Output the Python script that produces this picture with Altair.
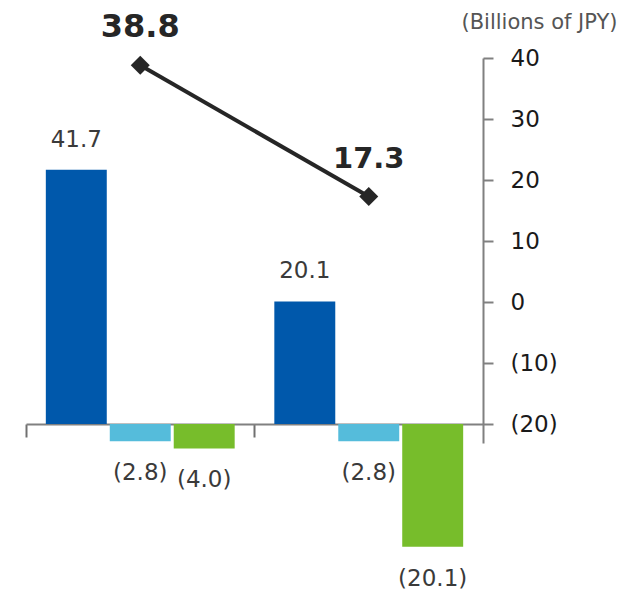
import altair as alt
import pandas as pd

groups = ["Period A", "Period B"]
series = ["Series 1", "Series 2", "Series 3"]
series1 = [41.7, 20.1]
series2 = [-2.8, -2.8]
series3 = [-4.0, -20.1]
line_values = [38.8, 17.3]
axis_ticks = [40, 30, 20, 10, 0, -10, -20]
unit_title = "(Billions of JPY)"
colors = ["#0058AB", "#55BCDB", "#77BD2B"]

rows = []
for s, vals in zip(series, [series1, series2, series3]):
    for g, v in zip(groups, vals):
        rows.append({"group": g, "series": s, "value": v})
bars_df = pd.DataFrame(rows)
line_df = pd.DataFrame({"group": groups, "value": line_values})

FONT = "Century Gothic, DejaVu Sans, sans-serif"
fmt = "datum.value < 0 ? '(' + format(-datum.value, '.1f') + ')' : format(datum.value, '.1f')"

x_enc = alt.X(
    "group:N", sort=groups,
    scale=alt.Scale(paddingInner=0, paddingOuter=0),
    axis=alt.Axis(title=None, labels=False, domainColor="#808080", domainWidth=2,
                  tickColor="#707070", tickWidth=2, tickSize=13, bandPosition=0,
                  offset=-19, grid=False),
)
xoff_enc = alt.XOffset("series:N", sort=series,
                       scale=alt.Scale(paddingInner=0.047, paddingOuter=0.31))
ybar = alt.Y("value:Q", scale=alt.Scale(domain=[-3.1, 60], nice=False), axis=None)

base_bars = alt.Chart(bars_df).transform_calculate(label=fmt)

bars = base_bars.mark_bar().encode(
    x=x_enc, xOffset=xoff_enc, y=ybar,
    color=alt.Color("series:N", sort=series, scale=alt.Scale(domain=series, range=colors), legend=None),
)
pos_labels = base_bars.transform_filter("datum.value >= 0").mark_text(
    dy=-30, fontSize=23, font=FONT, color="#3a3a3a", baseline="middle"
).encode(x=x_enc, xOffset=xoff_enc, y=ybar, text="label:N")
neg_labels = base_bars.transform_filter("datum.value < 0").mark_text(
    dy=32, fontSize=23, font=FONT, color="#3a3a3a", baseline="middle"
).encode(x=x_enc, xOffset=xoff_enc, y=ybar, text="label:N")

bar_layer = alt.layer(bars, pos_labels, neg_labels)

yline = alt.Y(
    "value:Q",
    scale=alt.Scale(domain=[-23.1, 40], nice=False, zero=False),
    axis=alt.Axis(orient="right", values=axis_ticks, title=unit_title, grid=False,
                  titleAngle=0, titleX=134, titleY=-26, titleAlign="right",
                  titleBaseline="bottom", titleFont=FONT, titleFontSize=21,
                  titleFontWeight="normal", titleColor="#555555",
                  labelExpr="datum.value < 0 ? '(' + (-datum.value) + ')' : datum.label",
                  labelFontSize=23, labelFont=FONT, labelColor="#1a1a1a",
                  labelPadding=17, labelAlign="left", labelBaseline="middle",
                  tickSize=10, tickColor="#808080", tickWidth=2,
                  domainColor="#808080", domainWidth=2),
)
base_line = alt.Chart(line_df).transform_calculate(label=fmt)
line = base_line.mark_line(
    color="#262626", strokeWidth=4,
    point=alt.OverlayMarkDef(shape="diamond", size=360, filled=True, color="#262626"),
).encode(x=x_enc, y=yline)
line_labels = base_line.mark_text(
    dy=-38, fontWeight="bold", font=FONT, color="#262626", baseline="middle"
).encode(
    x=x_enc, y=yline, text="label:N",
    size=alt.condition("datum.value > 30", alt.value(32), alt.value(29)),
)
line_layer = alt.layer(line, line_labels)

chart = alt.layer(bar_layer, line_layer).resolve_scale(y="independent").properties(
    width=457, height=385,
    autosize=alt.AutoSizeParams(type="none"),
    padding={"left": 18, "top": 50, "right": 137, "bottom": 147},
).configure_view(stroke=None)

chart.save("out.html", embed_options={"renderer": "svg", "actions": False})
